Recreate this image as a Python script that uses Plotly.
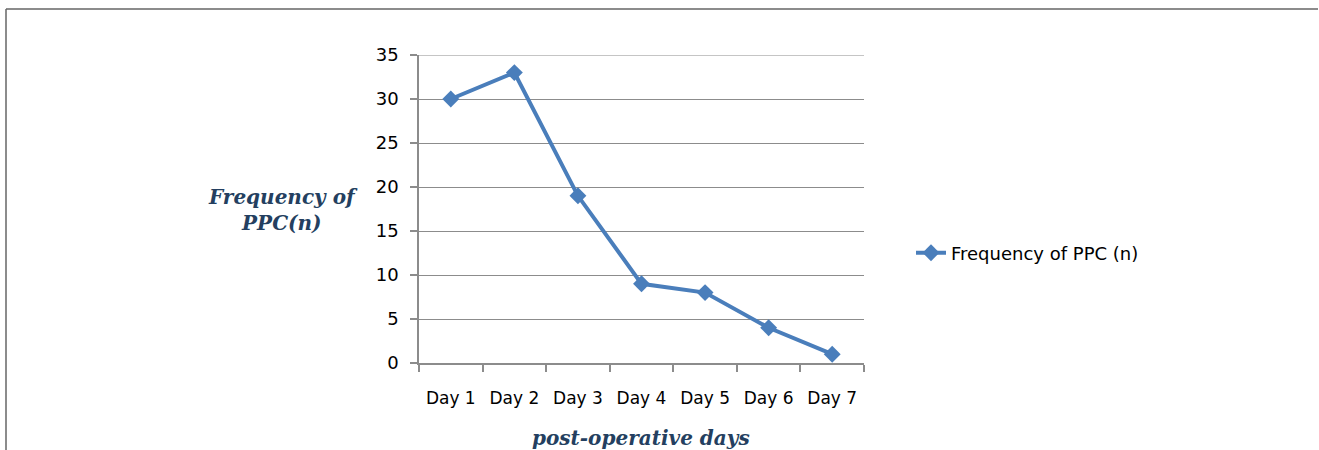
import plotly.graph_objects as go

days = ["Day 1", "Day 2", "Day 3", "Day 4", "Day 5", "Day 6", "Day 7"]
frequency = [30, 33, 19, 9, 8, 4, 1]
series_name = "Frequency of PPC (n)"
y_ticks = [0, 5, 10, 15, 20, 25, 30, 35]

W, H = 1319, 450
L, R, T, B = 419, 455, 55, 87
pw, ph = W - L - R, H - T - B

def px(x):
    return (x - L) / pw

def py(y):
    return (H - B - y) / ph

blue = "#4a7ebb"
grid = "#8c8c8c"
title_col = "#243f60"

fig = go.Figure()
fig.add_trace(go.Scatter(
    x=days, y=frequency, name=series_name, mode="lines+markers",
    line=dict(color=blue, width=4),
    marker=dict(symbol="diamond", size=13, color=blue),
    showlegend=True,
))

fig.update_layout(
    width=W, height=H,
    margin=dict(l=L, r=R, t=T, b=B),
    paper_bgcolor="white", plot_bgcolor="white",
    showlegend=True,
    legend=dict(x=px(911), y=py(253), xanchor="left", yanchor="middle",
                font=dict(family="DejaVu Sans", size=18, color="#000000"),
                bgcolor="rgba(0,0,0,0)", itemwidth=30),
    xaxis=dict(
        type="category", tickson="boundaries", ticks="outside", ticklen=7,
        tickcolor=grid, tickwidth=1.5, showline=True, linecolor=grid, linewidth=1.5,
        showgrid=False, tickfont=dict(family="DejaVu Sans", size=17, color="#000000"),
        ticklabelstandoff=19, range=[-0.5, 6.5],
    ),
    yaxis=dict(
        range=[0, max(y_ticks)], tickvals=y_ticks, ticks="outside", ticklen=7,
        tickcolor=grid, tickwidth=1.5, showline=True, linecolor=grid, linewidth=1.5,
        showgrid=True, gridcolor=grid, gridwidth=1.2, zeroline=False,
        tickfont=dict(family="DejaVu Sans", size=18, color="#000000"),
        ticklabelstandoff=8,
    ),
    shapes=[
        dict(type="line", xref="paper", yref="y", x0=0, x1=1, y0=max(y_ticks), y1=max(y_ticks),
             line=dict(color=grid, width=1.2), layer="below"),
        dict(type="line", xref="paper", yref="paper", x0=px(6), x1=px(1318), y0=py(9), y1=py(9),
             line=dict(color="#666666", width=1.5)),
        dict(type="line", xref="paper", yref="paper", x0=px(6), x1=px(6), y0=py(9), y1=py(452),
             line=dict(color="#666666", width=1.5)),
    ],
    annotations=[
        dict(text="<b><i>Frequency of<br>PPC(n)</i></b>", xref="paper", yref="paper",
             x=px(283), y=py(210), xanchor="center", yanchor="middle", showarrow=False,
             font=dict(family="DejaVu Serif", size=20, color=title_col), align="center"),
        dict(text="<b><i>post-operative days</i></b>", xref="paper", yref="paper",
             x=px(641), y=py(438), xanchor="center", yanchor="middle", showarrow=False,
             font=dict(family="DejaVu Serif", size=20, color=title_col)),
    ],
)

fig.write_html("out.html", config={"displayModeBar": False},
               post_script="document.body.style.margin='0';")
